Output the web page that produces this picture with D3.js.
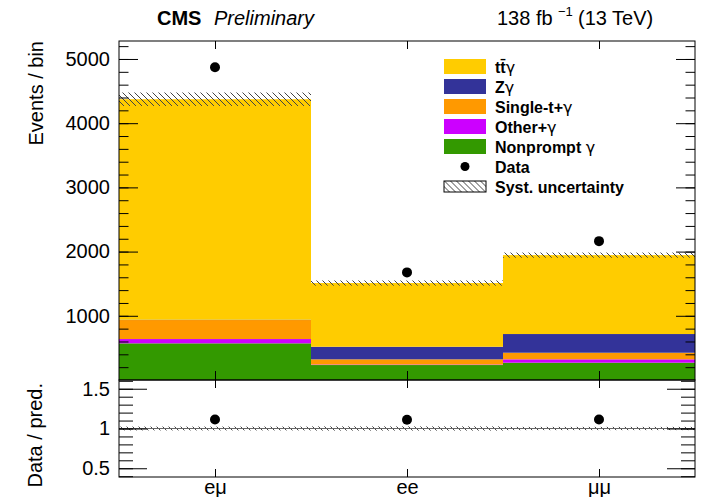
<!DOCTYPE html>
<meta charset="utf-8">
<script src="https://cdn.jsdelivr.net/npm/d3@7"></script>
<style>
  body { margin: 0; background: #fff; }
  text { font-family: "Liberation Sans", Arial, sans-serif; fill: #000; }
</style>
<body>
<script>

var width = 701
var height = 497

var channels = ["eμ", "ee", "μμ"]
var ttgamma   = [3434, 992, 1229]
var zgamma    = [5, 196, 291]
var singlet   = [296, 81, 103]
var othergam  = [67, 8, 52]
var nonprompt = [571, 233, 270]
var syst      = [105, 40, 40]
var data      = [4871, 1676, 2163]
var yTicks = [1000, 2000, 3000, 4000, 5000]
var rTicks = [0.5, 1, 1.5]

var keys = ["nonprompt", "other", "singlet", "zgamma", "ttgamma"]
var colors = {ttgamma: "#ffcc00", zgamma: "#333399", singlet: "#ff9900", other: "#cc00ff", nonprompt: "#339900"}
var legendRows = [
  {key: "ttgamma", label: "tt\u0304", gam: "γ"},
  {key: "zgamma", label: "Z", gam: "γ"},
  {key: "singlet", label: "Single-t+", gam: "γ"},
  {key: "other", label: "Other+", gam: "γ"},
  {key: "nonprompt", label: "Nonprompt  ", gam: "γ"},
  {key: "data", label: "Data"},
  {key: "syst", label: "Syst. uncertainty"}
]

var bins = channels.map(function(c, i) {
  return {ch: c, ttgamma: ttgamma[i], zgamma: zgamma[i], singlet: singlet[i], other: othergam[i], nonprompt: nonprompt[i]}
})
var totals = bins.map(function(b) { return d3.sum(keys, function(k) { return b[k] }) })

var left = 119, right = 695
var x = d3.scaleLinear().domain([0, 3]).range([left, right])
var y = d3.scaleLinear().domain([0, 5280]).range([380, 41])
var yr = d3.scaleLinear().domain([0.39, 1.61]).range([477, 380])

var svg = d3.select("body").append("svg")
            .attr("width", width)
            .attr("height", height)

var defs = svg.append("defs")
var pat = defs.append("pattern").attr("id", "hatch")
    .attr("patternUnits", "userSpaceOnUse").attr("width", 6).attr("height", 6)
pat.append("path").attr("d", "M0,0L6,6M-1,5L1,7M5,-1L7,1")
    .attr("stroke", "#444").attr("stroke-width", 1)

// stacked histogram
var stack = d3.stack().keys(keys)(bins)
svg.append("g").selectAll("g").data(stack).enter().append("g")
    .attr("fill", function(d) { return colors[d.key] })
  .selectAll("rect").data(function(d) { return d }).enter().append("rect")
    .attr("x", function(d, i) { return x(i) })
    .attr("width", function(d, i) { return x(i + 1) - x(i) })
    .attr("y", function(d) { return y(d[1]) })
    .attr("height", function(d) { return y(d[0]) - y(d[1]) })

svg.append("g").selectAll("rect").data(totals).enter().append("rect")
    .attr("x", function(d, i) { return x(i) })
    .attr("width", function(d, i) { return x(i + 1) - x(i) })
    .attr("y", function(d, i) { return y(d + syst[i]) })
    .attr("height", function(d, i) { return y(d - syst[i]) - y(d + syst[i]) })
    .attr("fill", "url(#hatch)")

svg.append("g").selectAll("circle").data(data).enter().append("circle")
    .attr("cx", function(d, i) { return x(i + 0.5) })
    .attr("cy", function(d) { return y(d) })
    .attr("r", 5)

// ratio panel
svg.append("g").selectAll("rect").data(totals).enter().append("rect")
    .attr("x", function(d, i) { return x(i) })
    .attr("width", function(d, i) { return x(i + 1) - x(i) })
    .attr("y", function(d, i) { return yr(1 + syst[i] / d) })
    .attr("height", function(d, i) { return yr(1 - syst[i] / d) - yr(1 + syst[i] / d) })
    .attr("fill", "url(#hatch)")

svg.append("line").attr("x1", left).attr("x2", right).attr("y1", yr(1)).attr("y2", yr(1))
    .attr("stroke", "#666").attr("stroke-width", 1)

svg.append("g").selectAll("circle").data(data).enter().append("circle")
    .attr("cx", function(d, i) { return x(i + 0.5) })
    .attr("cy", function(d, i) { return yr(d / totals[i]) })
    .attr("r", 5)

// axes
function clean(g) { g.select(".domain").remove(); g.selectAll("line").attr("stroke", "#000"); g.selectAll("text").attr("font-size", 20).attr("font-family", null) }

var minorY = d3.range(200, 5280, 200)
svg.append("g").attr("transform", "translate(" + left + ",0)")
    .call(d3.axisLeft(y).tickValues(minorY).tickSize(-9.5).tickFormat("")).call(clean)
svg.append("g").attr("transform", "translate(" + left + ",0)")
    .call(d3.axisLeft(y).tickValues(yTicks).tickSize(-19).tickPadding(9).tickFormat(d3.format("d"))).call(clean)
svg.append("g").attr("transform", "translate(" + right + ",0)")
    .call(d3.axisRight(y).tickValues(minorY).tickSize(-9.5).tickFormat("")).call(clean)
svg.append("g").attr("transform", "translate(" + right + ",0)")
    .call(d3.axisRight(y).tickValues(yTicks).tickSize(-19).tickFormat("")).call(clean)

var minorR = d3.range(0.4, 1.61, 0.1)
svg.append("g").attr("transform", "translate(" + left + ",0)")
    .call(d3.axisLeft(yr).tickValues(minorR).tickSize(-14).tickFormat("")).call(clean)
svg.append("g").attr("transform", "translate(" + left + ",0)")
    .call(d3.axisLeft(yr).tickValues(rTicks).tickSize(-28).tickPadding(9).tickFormat(d3.format("~g"))).call(clean)
svg.append("g").attr("transform", "translate(" + right + ",0)")
    .call(d3.axisRight(yr).tickValues(minorR).tickSize(-14).tickFormat("")).call(clean)
svg.append("g").attr("transform", "translate(" + right + ",0)")
    .call(d3.axisRight(yr).tickValues(rTicks).tickSize(-28).tickFormat("")).call(clean)

var centers = [0.5, 1.5, 2.5]
svg.append("g").attr("transform", "translate(0,41)")
    .call(d3.axisTop(x).tickValues(centers).tickSize(-8).tickFormat("")).call(clean)
svg.append("g").attr("transform", "translate(0,380)")
    .call(d3.axisBottom(x).tickValues(centers).tickSize(-9).tickFormat("")).call(clean)
svg.append("g").attr("transform", "translate(0,380)")
    .call(d3.axisTop(x).tickValues(centers).tickSize(-8).tickFormat("")).call(clean)
svg.append("g").attr("transform", "translate(0,477)")
    .call(d3.axisBottom(x).tickValues(centers).tickSize(-8).tickPadding(3)
      .tickFormat(function(d, i) { return channels[i] })).call(clean)

// frames
svg.append("rect").attr("x", left).attr("y", 41).attr("width", right - left).attr("height", 339)
    .attr("fill", "none").attr("stroke", "#000")
svg.append("rect").attr("x", left).attr("y", 380).attr("width", right - left).attr("height", 97)
    .attr("fill", "none").attr("stroke", "#000")

// titles
svg.append("text").attr("transform", "translate(43,41) rotate(-90)")
    .attr("text-anchor", "end").attr("font-size", 20).text("Events / bin")
svg.append("text").attr("transform", "translate(42,383) rotate(-90)")
    .attr("text-anchor", "end").attr("font-size", 20).text("Data / pred.")

svg.append("text").attr("x", 157).attr("y", 25).attr("font-size", 20).attr("font-weight", "bold").text("CMS")
svg.append("text").attr("x", 214).attr("y", 25).attr("font-size", 20).attr("font-style", "italic").text("Preliminary")
svg.append("text").attr("x", 497).attr("y", 25).attr("font-size", 20).text("138 fb")
svg.append("text").attr("x", 558).attr("y", 16).attr("font-size", 13).text("\u22121")
svg.append("text").attr("x", 578).attr("y", 25).attr("font-size", 20).text("(13 TeV)")

// legend
var legend = svg.append("g")
var rows = legend.selectAll("g").data(legendRows).enter().append("g")
    .attr("transform", function(d, i) { return "translate(444," + (66.5 + i * 20) + ")" })
rows.filter(function(d) { return colors[d.key] }).append("rect")
    .attr("y", -7.5).attr("width", 42).attr("height", 15)
    .attr("fill", function(d) { return colors[d.key] })
rows.filter(function(d) { return d.key == "data" }).append("circle")
    .attr("cx", 21).attr("r", 4.5)
rows.filter(function(d) { return d.key == "syst" }).append("rect")
    .attr("y", -5.5).attr("width", 42).attr("height", 11)
    .attr("fill", "url(#hatch)").attr("stroke", "#000")
var labels = rows.append("text").attr("x", 51).attr("y", 6)
    .attr("font-size", 16).attr("font-weight", "bold")
labels.append("tspan").text(function(d) { return d.label })
labels.append("tspan").attr("font-weight", "normal").attr("font-family", "DejaVu Sans")
    .text(function(d) { return d.gam || "" })

</script>
</body>
